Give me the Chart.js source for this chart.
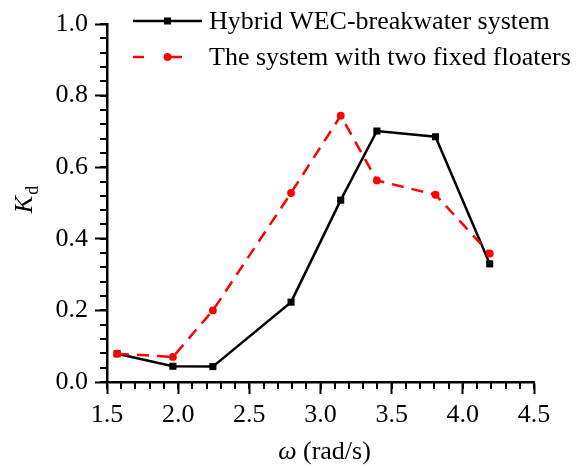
<!DOCTYPE html>
<html>
<head>
<meta charset="utf-8">
<script src="https://cdn.jsdelivr.net/npm/chart.js@4/dist/chart.umd.min.js"></script>
<style>
  html, body { margin: 0; padding: 0; background: #fff; }
  #wrap { width: 577px; height: 468px; }
</style>
</head>
<body>
<div id="wrap"><canvas id="kdChart" width="577" height="468"></canvas></div>
<script>
// wave frequency (rad/s) and Kd for the two configurations
const omega = [1.571, 1.963, 2.244, 2.793, 3.142, 3.396, 3.808, 4.189];
const kdHybrid = [0.079, 0.044, 0.043, 0.223, 0.508, 0.701, 0.685, 0.330];
const kdFixed = [0.079, 0.070, 0.200, 0.528, 0.744, 0.563, 0.523, 0.359];
const seriesNames = ['Hybrid WEC-breakwater system', 'The system with two fixed floaters'];
const xTicks = [1.5, 2.0, 2.5, 3.0, 3.5, 4.0, 4.5];
const yTicks = [0.0, 0.2, 0.4, 0.6, 0.8, 1.0];

const FONT = '"Liberation Serif", "Times New Roman", serif';
const toXY = ys => omega.map((x, i) => ({ x: x, y: ys[i] }));

// minor ticks, axis titles and the in-plot legend
const decorations = {
  id: 'decorations',
  afterDraw(chart) {
    const ctx = chart.ctx;
    const xs = chart.scales.x, ys = chart.scales.y;
    const area = chart.chartArea;
    ctx.save();
    ctx.strokeStyle = '#000';
    ctx.lineWidth = 2;
    ctx.beginPath();
    for (let v = 1.5; v <= 4.5001; v += 0.1) {
      const px = Math.round(xs.getPixelForValue(v));
      ctx.moveTo(px, area.bottom);
      ctx.lineTo(px, area.bottom + 7);
    }
    for (let v = 0; v <= 1.0001; v += 0.04) {
      const py = Math.round(ys.getPixelForValue(v));
      ctx.moveTo(area.left, py);
      ctx.lineTo(area.left - 7, py);
    }
    ctx.stroke();

    // x title: ω (rad/s)
    ctx.fillStyle = '#000';
    ctx.textBaseline = 'alphabetic';
    ctx.textAlign = 'left';
    const italic = 'italic 26px ' + FONT;
    const upright = '26px ' + FONT;
    ctx.font = italic;
    const wOm = ctx.measureText('ω').width;
    ctx.font = upright;
    const wRest = ctx.measureText(' (rad/s)').width;
    let tx = (area.left + area.right) / 2 - (wOm + wRest) / 2 + 4;
    const ty = 459;
    ctx.font = italic;
    ctx.fillText('ω', tx, ty);
    ctx.font = upright;
    ctx.fillText(' (rad/s)', tx + wOm, ty);

    // y title: K with subscript d
    ctx.save();
    ctx.translate(32, 200);
    ctx.rotate(-Math.PI / 2);
    ctx.font = 'italic 26px ' + FONT;
    const wK = ctx.measureText('K').width;
    ctx.font = '18px ' + FONT;
    const wd = ctx.measureText('d').width;
    const sx = -(wK + wd) / 2;
    ctx.font = 'italic 26px ' + FONT;
    ctx.fillText('K', sx, 0);
    ctx.font = '18px ' + FONT;
    ctx.fillText('d', sx + wK + 1, 6);
    ctx.restore();

    // legend
    ctx.lineWidth = 2.5;
    // row 1: solid black with square
    ctx.strokeStyle = '#000';
    ctx.fillStyle = '#000';
    ctx.beginPath();
    ctx.moveTo(133, 21);
    ctx.lineTo(202, 21);
    ctx.stroke();
    ctx.fillRect(164, 17.5, 7, 7);
    // row 2: dashed red with circle
    ctx.strokeStyle = '#ff0000';
    ctx.fillStyle = '#ff0000';
    ctx.beginPath();
    ctx.moveTo(133, 57);
    ctx.lineTo(144, 57);
    ctx.moveTo(164, 57);
    ctx.lineTo(182, 57);
    ctx.stroke();
    ctx.beginPath();
    ctx.arc(167.5, 57, 3.9, 0, Math.PI * 2);
    ctx.fill();

    ctx.fillStyle = '#000';
    ctx.font = '26px ' + FONT;
    ctx.textBaseline = 'middle';
    ctx.fillText(seriesNames[0], 209, 22);
    ctx.fillText(seriesNames[1], 209, 58);
    ctx.restore();
  }
};

new Chart(document.getElementById('kdChart'), {
  type: 'line',
  data: {
    datasets: [
      {
        label: seriesNames[0],
        data: toXY(kdHybrid),
        borderColor: '#000',
        backgroundColor: '#000',
        borderWidth: 2.5,
        pointStyle: 'rect',
        pointRadius: 5,
        pointBorderWidth: 0,
        tension: 0,
        order: 1
      },
      {
        label: seriesNames[1],
        data: toXY(kdFixed),
        borderColor: '#ff0000',
        backgroundColor: '#ff0000',
        borderWidth: 2.5,
        borderDash: [12, 8],
        pointStyle: 'circle',
        pointRadius: 3.9,
        pointBorderWidth: 0,
        tension: 0,
        order: 0
      }
    ]
  },
  options: {
    responsive: false,
    animation: false,
    layout: { padding: { top: 24, right: 43, left: 0, bottom: 0 } },
    plugins: { legend: { display: false }, tooltip: { enabled: false } },
    scales: {
      x: {
        type: 'linear',
        min: 1.5,
        max: 4.5,
        afterBuildTicks: s => { s.ticks = xTicks.map(v => ({ value: v })); },
        afterFit: s => { s.height = 86; },
        border: { display: true, color: '#000', width: 2.5 },
        grid: { drawOnChartArea: false, drawTicks: true, tickLength: 12, tickColor: '#000', tickWidth: 2 },
        ticks: {
          color: '#000',
          padding: 6,
          font: { family: FONT, size: 26 },
          callback: v => v.toFixed(1)
        }
      },
      y: {
        type: 'linear',
        min: 0,
        max: 1,
        afterBuildTicks: s => { s.ticks = yTicks.map(v => ({ value: v })); },
        afterFit: s => { s.width = 107; },
        border: { display: true, color: '#000', width: 2.5 },
        grid: { drawOnChartArea: false, drawTicks: true, tickLength: 12, tickColor: '#000', tickWidth: 2 },
        ticks: {
          color: '#000',
          padding: 7,
          font: { family: FONT, size: 26 },
          callback: v => v.toFixed(1)
        }
      }
    }
  },
  plugins: [decorations]
});
</script>
</body>
</html>
